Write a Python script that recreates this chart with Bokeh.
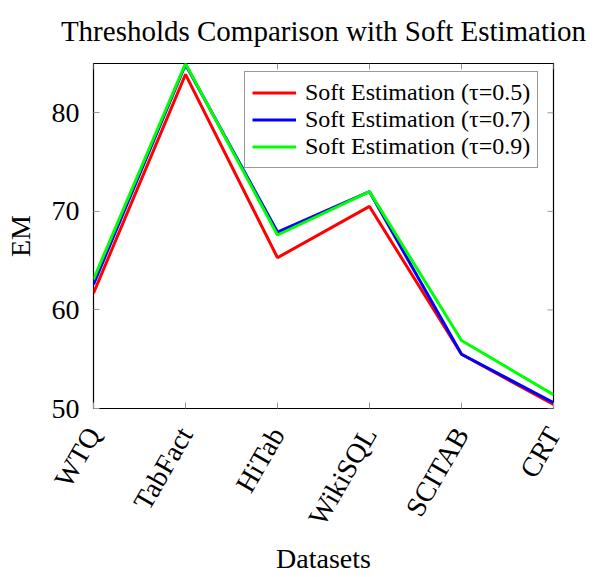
from bokeh.plotting import figure
from bokeh.models import FixedTicker, Range1d, Legend, LegendItem
from bokeh.embed import file_html
from bokeh.resources import INLINE
import math

datasets = ["WTQ", "TabFact", "HiTab", "WikiSQL", "SCITAB", "CRT"]
soft_05 = [61.7, 83.9, 65.3, 70.5, 55.5, 50.4]
soft_07 = [62.6, 84.9, 67.9, 72.0, 55.5, 50.6]
soft_09 = [63.1, 85.0, 67.6, 72.0, 56.9, 51.4]
series_names = ["Soft Estimation (τ=0.5)", "Soft Estimation (τ=0.7)", "Soft Estimation (τ=0.9)"]
y_ticks = [50, 60, 70, 80]

FONT = "Liberation Serif"
x = list(range(len(datasets)))
Y0, Y1 = 50, 85
X0, X1 = 0, len(datasets) - 1

W, H = 599, 577
ML, MR, MT, MB = 93, 46, 62, 169
FW, FH = W - ML - MR, H - MT - MB

p = figure(width=W, height=H, output_backend="svg", toolbar_location=None,
           x_range=Range1d(X0, X1), y_range=Range1d(Y0, Y1),
           min_border_left=ML, min_border_right=MR, min_border_top=MT, min_border_bottom=MB,
           title="Thresholds Comparison with Soft Estimation")
p.title.text_font = FONT
p.title.text_font_size = "29px"
p.title.text_font_style = "normal"
p.title.text_color = "black"
p.title.align = "center"
p.title.vertical_align = "top"
p.title.offset = 0
p.title.standoff = 29

p.xgrid.visible = False
p.ygrid.visible = False
p.outline_line_color = "black"
p.outline_line_width = 1.2
p.background_fill_color = "white"
p.border_fill_color = "white"

# inside ticks on the top and right edges (6 px long)
tick_px = 6
dy = tick_px * (Y1 - Y0) / FH
dx = tick_px * (X1 - X0) / FW
p.segment(x0=x, y0=[Y1] * len(x), x1=x, y1=[Y1 - dy] * len(x), line_color="#999999", line_width=1)
p.segment(x0=[X1] * len(y_ticks), y0=y_ticks, x1=[X1 - dx] * len(y_ticks), y1=y_ticks,
          line_color="#999999", line_width=1)

colors = ["#ff0000", "#0000ff", "#00ff00"]
renderers = []
for ys, c in zip([soft_05, soft_07, soft_09], colors):
    r = p.line(x, ys, line_color=c, line_width=3)
    renderers.append(r)

xt = FixedTicker(ticks=x)
yt = FixedTicker(ticks=y_ticks)

xa = p.xaxis[0]
xa.ticker = xt
xa.major_label_overrides = {i: d for i, d in enumerate(datasets)}
xa.major_label_orientation = math.pi / 3
xa.major_label_text_font = FONT
xa.major_label_text_font_size = "28px"
xa.major_label_text_color = "black"
xa.major_label_standoff = 21
xa.axis_label = "Datasets"
xa.axis_label_text_font = FONT
xa.axis_label_text_font_size = "28px"
xa.axis_label_text_font_style = "normal"
xa.axis_label_text_color = "black"
xa.axis_label_standoff = 2
xa.axis_line_color = None
xa.major_tick_in = 6
xa.major_tick_out = 0
xa.major_tick_line_color = "#999999"
xa.minor_tick_line_color = None

ya = p.yaxis[0]
ya.ticker = yt
ya.major_label_text_font = FONT
ya.major_label_text_font_size = "28px"
ya.major_label_text_color = "black"
ya.major_label_standoff = 14
ya.axis_label = "EM"
ya.axis_label_text_font = FONT
ya.axis_label_text_font_size = "28px"
ya.axis_label_text_font_style = "normal"
ya.axis_label_text_color = "black"
ya.axis_label_standoff = 13
ya.axis_line_color = None
ya.major_tick_in = 6
ya.major_tick_out = 0
ya.major_tick_line_color = "#999999"
ya.minor_tick_line_color = None

legend = Legend(items=[LegendItem(label=n, renderers=[r]) for n, r in zip(series_names, renderers)],
                location=(151, 240))
legend.label_text_font = FONT
legend.label_text_font_size = "24px"
legend.label_text_color = "black"
legend.label_height = 27
legend.glyph_width = 44
legend.glyph_height = 27
legend.spacing = 0
legend.padding = 7
legend.margin = 0
legend.label_standoff = 9
legend.border_line_color = "#333333"
legend.border_line_width = 1
legend.background_fill_alpha = 1
p.add_layout(legend, "center")

open("out.html", "w").write(file_html(p, INLINE))
